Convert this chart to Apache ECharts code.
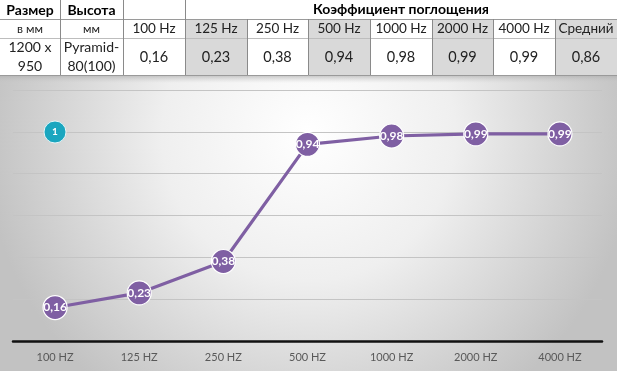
<!DOCTYPE html>
<html><head><meta charset="utf-8">
<script src="https://cdn.jsdelivr.net/npm/echarts@6/dist/echarts.min.js"></script>
<style>html,body{margin:0;padding:0;background:#fff}#c{width:617px;height:371px}</style>
</head><body><div id="c"></div>
<script>
const categories = ['100 HZ','125 HZ','250 HZ','500 HZ','1000 HZ','2000 HZ','4000 HZ'];
const values = [0.16, 0.23, 0.38, 0.94, 0.98, 0.99, 0.99];
const tableHeaderTop = ['Размер','Высота','','Коэффициент поглощения'];
const tableHeaderSub = ['в мм','мм','100 Hz','125 Hz','250 Hz','500 Hz','1000 Hz','2000 Hz','4000 Hz','Средний'];
const tableRowFirst = ['1200 x\n950','Pyramid-\n80(100)'];
const tableRowValues = ['0,16','0,23','0,38','0,94','0,98','0,99','0,99','0,86'];
const badgeText = '1';

const FONT = 'Lato, "Open Sans", sans-serif';
const colX = [0,60,123,185,247,308,370,432,493,555,617];
const rowY = [0,19,38,75];
const shaded = [3,5,7,9];
const g = [];
g.push({type:'rect', z:-10, shape:{x:0,y:75,width:617,height:296},
  style:{fill:{type:'radial',x:0.5,y:0.2,r:1.1,colorStops:[{offset:0,color:'#ffffff'},{offset:0.45,color:'#efefef'},{offset:1,color:'#c2c2c2'}]}}, silent:true});
g.push({type:'rect', z:-9, shape:{x:0,y:75,width:617,height:8},
  style:{fill:{type:'linear',x:0,y:0,x2:0,y2:1,colorStops:[{offset:0,color:'rgba(170,170,170,0.7)'},{offset:1,color:'rgba(200,200,200,0)'}]}}, silent:true});
g.push({type:'rect', z:-8, shape:{x:0,y:0,width:617,height:75}, style:{fill:'#fff'}});
shaded.forEach(i=>{
  g.push({type:'rect', z:-7, shape:{x:colX[i],y:rowY[1],width:colX[i+1]-colX[i],height:rowY[3]-rowY[1]}, style:{fill:'#d9d9d9'}});
});
[rowY[1],rowY[2],rowY[3]].forEach((y,k)=>{
  g.push({type:'line', z:-6, shape:{x1:0,y1:y+0.5,x2:617,y2:y+0.5}, style:{stroke: k===1?'#bdbdbd':'#9a9a9a', lineWidth:1}});
});
for (let i=1;i<colX.length-1;i++){
  const y1 = i<=3 ? 0 : rowY[1];
  g.push({type:'line', z:-6, shape:{x1:colX[i]+0.5,y1:y1,x2:colX[i]+0.5,y2:rowY[3]}, style:{stroke:'#8a8a8a', lineWidth:1}});
}
function txt(x,y,t,opt){
  g.push({type:'text', z:5, x:x, y:y, style:Object.assign({text:t, fill:'#000', font:'14px '+FONT, align:'center', verticalAlign:'middle', lineHeight:19}, opt||{})});
}
txt(30,10,tableHeaderTop[0],{font:'bold 14px '+FONT});
txt(91.5,10,tableHeaderTop[1],{font:'bold 14px '+FONT});
txt(154,10,tableHeaderTop[2],{font:'bold 14px '+FONT});
txt(401,9,tableHeaderTop[3],{font:'bold 14px '+FONT});
tableHeaderSub.forEach((t,i)=>{
  txt((colX[i]+colX[i+1])/2, 29, t, {font: (i<2?'12px ':'13.5px ')+FONT, fill:'#222'});
});
tableRowFirst.forEach((t,i)=>{
  txt((colX[i]+colX[i+1])/2, 57, t, {font:'14px '+FONT, fill:'#222'});
});
tableRowValues.forEach((t,i)=>{
  txt((colX[i+2]+colX[i+3])/2, 57, t, {font:'14.5px '+FONT, fill:'#222'});
});
g.push({type:'circle', z:5, shape:{cx:55,cy:132,r:11}, style:{fill:'#1aa6bf', stroke:'#e8f6f8', lineWidth:1}});
g.push({type:'text', z:6, x:55, y:132, style:{text:badgeText, fill:'#fff', font:'bold 10px '+FONT, align:'center', verticalAlign:'middle'}});

const chart = echarts.init(document.getElementById('c'));
chart.setOption({
  animation:false,
  backgroundColor:'transparent',
  graphic: g,
  grid:{left:13,right:15,top:90,bottom:30},
  xAxis:{type:'category', data:categories, boundaryGap:true,
    axisLine:{show:true, lineStyle:{color:'#111', width:2.5}},
    axisTick:{show:false},
    axisLabel:{color:'#595959', fontSize:11, fontFamily:FONT, margin:11}},
  yAxis:{type:'value', min:0, max:1.2, interval:0.2,
    axisLabel:{show:false}, axisLine:{show:false}, axisTick:{show:false},
    splitLine:{show:true, lineStyle:{color:'#c4c4c4', width:1.2}}},
  series:[{type:'line', data:values, z:3,
    lineStyle:{color:'#7f5fa3', width:3.2},
    symbol:'circle', symbolSize:24,
    itemStyle:{color:'#7f5fa3', borderColor:'#ffffff', borderWidth:1.2},
    label:{show:true, position:'inside', color:'#fff', fontWeight:'bold', fontSize:12, fontFamily:FONT,
      formatter:p=>p.value.toFixed(2).replace('.', ',')}}]
});
</script></body></html>
